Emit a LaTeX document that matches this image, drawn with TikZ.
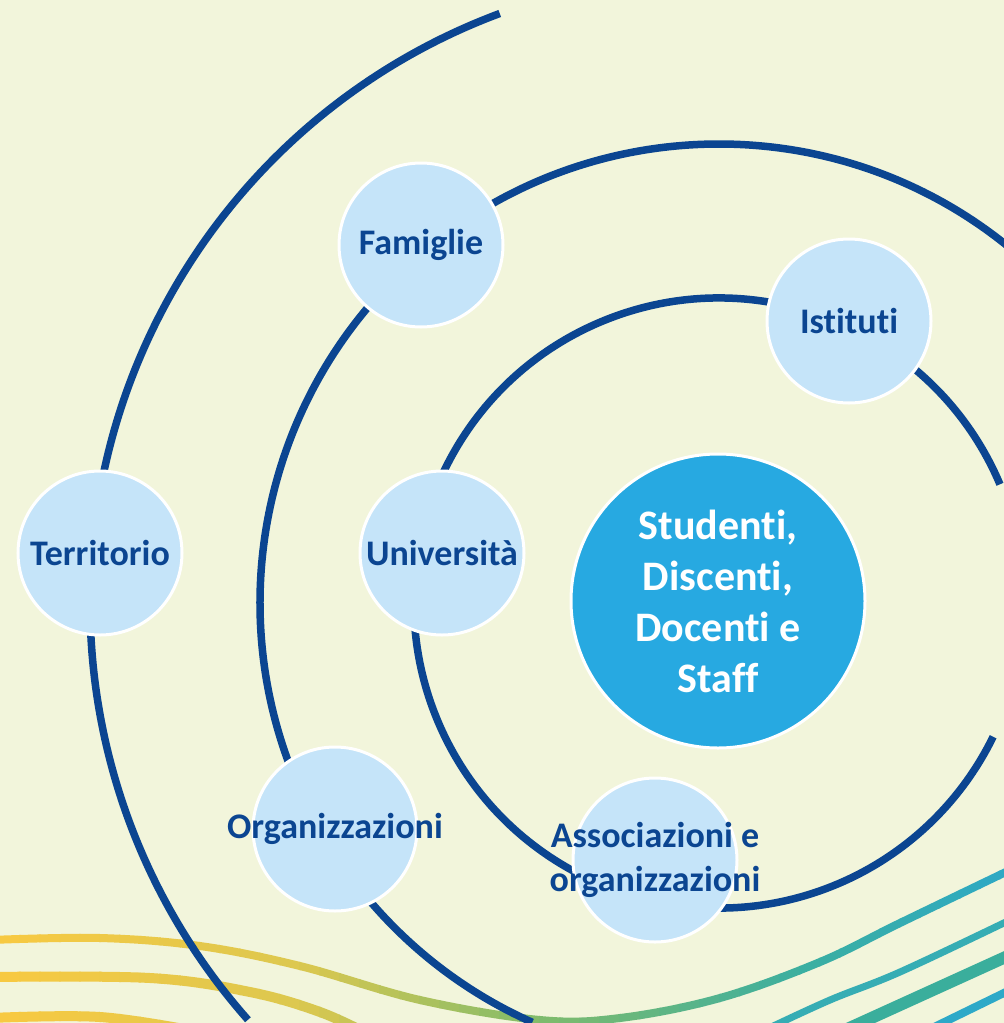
\documentclass[tikz,border=0pt]{standalone}
\usepackage{fontspec}
\setmainfont{Carlito}[Ligatures={NoCommon}]
\definecolor{bg}{HTML}{F2F5DB}
\definecolor{ring}{HTML}{0B4591}
\definecolor{lightc}{HTML}{C5E4F9}
\definecolor{core}{HTML}{27A9E1}
\definecolor{txt}{HTML}{0B4591}
\definecolor{wA}{HTML}{F8C942}
\definecolor{wB}{HTML}{DCC84F}
\definecolor{wC}{HTML}{80BB6B}
\definecolor{wD}{HTML}{3BAFA0}
\definecolor{wE}{HTML}{2EA9C4}
\definecolor{tealB}{HTML}{36ADB4}
\definecolor{tealC}{HTML}{3AAE9C}
\definecolor{tealD}{HTML}{2DA9C8}
\newcommand\wavecurves{%
  \draw[line width=8pt] plot[smooth, tension=0.6] coordinates {(-10,-940) (100,-938) (200,-946) (300,-966) (420,-1000) (540,-1020) (620,-1018) (720,-998) (820,-962) (900,-923) (1010,-870)};
  \draw[line width=10pt] plot[smooth, tension=0.6] coordinates {(-10,-977) (150,-978) (250,-992) (320,-1012) (370,-1035)};
  \draw[line width=10pt] plot[smooth, tension=0.6] coordinates {(-10,-1018) (100,-1017) (200,-1032)};
}
\begin{document}
\begin{tikzpicture}[x=1pt,y=1pt,
  ringline/.style={draw=ring, line width=7.5pt},
  member/.style={circle, fill=lightc, draw=white, line width=3pt, minimum size=164pt, inner sep=0pt},
  membertext/.style={text=txt, font=\bfseries\fontsize{36}{44}\selectfont, align=center, inner sep=0pt},
  corenode/.style={circle, fill=core, draw=white, line width=3pt, minimum size=294pt, inner sep=0pt},
  coretext/.style={text=white, font=\bfseries\fontsize{42}{51}\selectfont, align=center, inner sep=0pt}]

\fill[bg] (0,0) rectangle (1004,-1023);
\useasboundingbox (0,0) rectangle (1004,-1023);

\begin{scope}
  \clip (0,0) rectangle (1004,-1023);
  % gradient waves
  \foreach \i in {0,...,50}{%
    \pgfmathsetmacro{\xx}{\i*20+10}%
    \ifdim\xx pt<300pt
      \pgfmathsetmacro{\p}{100-\xx/3}\colorlet{wc}{wA!\p!wB}%
    \else\ifdim\xx pt<540pt
      \pgfmathsetmacro{\p}{100-(\xx-300)/2.4}\colorlet{wc}{wB!\p!wC}%
    \else\ifdim\xx pt<800pt
      \pgfmathsetmacro{\p}{100-(\xx-540)/2.6}\colorlet{wc}{wC!\p!wD}%
    \else
      \pgfmathsetmacro{\p}{max(0,100-(\xx-800)/2.04)}\colorlet{wc}{wD!\p!wE}%
    \fi\fi\fi
    \begin{scope}[color=wc]
      \clip (\xx-10.6,-1030) rectangle (\xx+10.6,-850);
      \wavecurves
    \end{scope}
  }
  \draw[line width=7pt, color=tealB] plot[smooth, tension=0.6] coordinates {(765,-1030) (830,-1000) (900,-972) (1010,-920)};
  \draw[line width=12pt, color=tealC] plot[smooth, tension=0.6] coordinates {(845,-1030) (900,-1005) (1010,-955)};
  \draw[line width=8pt, color=tealD] plot[smooth, tension=0.6] coordinates {(928,-1030) (1010,-990)};

  % rings
  \coordinate (ctr) at (719,-603);
  \draw[ringline] (ctr) ++(22.9:305) arc[start angle=22.9, end angle=334, radius=305];
  \draw[ringline] (ctr) ++(45:459) arc[start angle=45, end angle=246, radius=459];
  \draw[ringline] (ctr) ++(110.4:629) arc[start angle=110.4, end angle=221.5, radius=629];
\end{scope}

% nodes
\node[corenode, label={[coretext]center:Studenti,\\Discenti,\\Docenti e\\Staff}] (core) at (718,-601) {};
\node[member, label={[membertext]center:Famiglie}] (fam) at (421,-245) {};
\node[member, label={[membertext]center:Istituti}] (ist) at (849,-321) {};
\node[member, label={[membertext]center:Territorio}] (ter) at (100,-553) {};
\node[member, label={[membertext]center:Università}] (uni) at (442,-553) {};
\node[member, label={[membertext]center:Organizzazioni}] (org) at (335,-829) {};
\node[member, label={[membertext]center:Associazioni e\\organizzazioni}] (ass) at (655,-860) {};
\end{tikzpicture}
\end{document}
